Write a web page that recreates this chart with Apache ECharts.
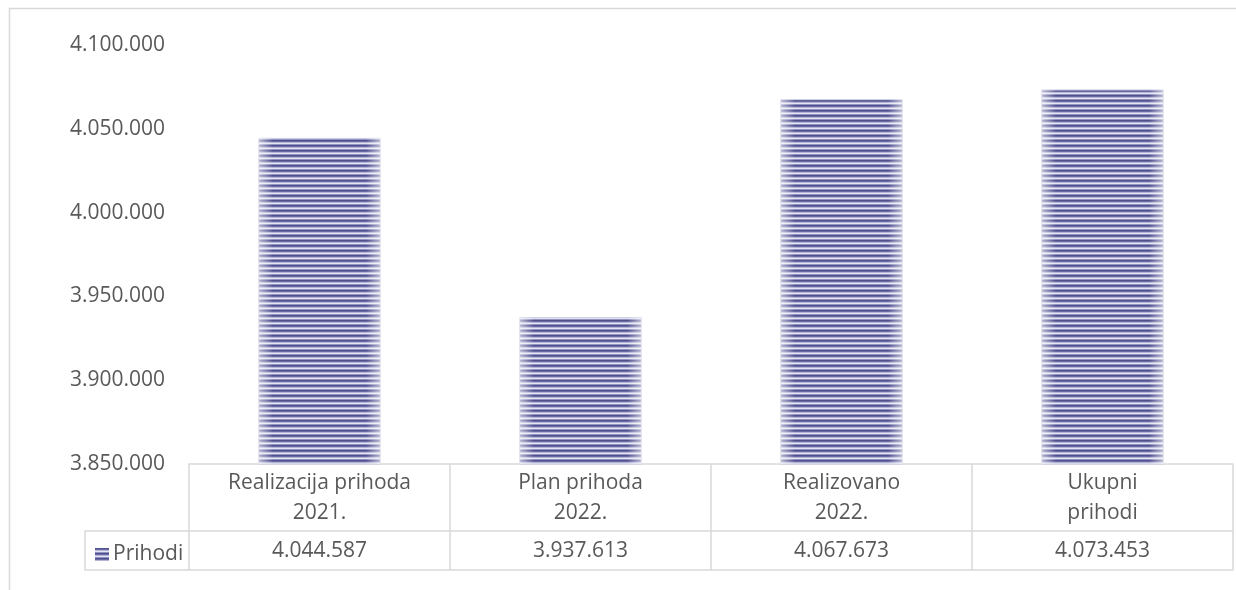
<!DOCTYPE html>
<html>
<head>
<meta charset="utf-8">
<script src="https://cdn.jsdelivr.net/npm/echarts@6/dist/echarts.min.js"></script>
<style>
html,body{margin:0;padding:0;background:#fff;}
#chart{width:1236px;height:590px;}
</style>
</head>
<body>
<div id="chart"></div>
<script>
var categories = ['Realizacija prihoda\n2021.', 'Plan prihoda\n2022.', 'Realizovano\n2022.', 'Ukupni\nprihodi'];
var seriesName = 'Prihodi';
var values = [4044587, 3937613, 4067673, 4073453];
var yMin = 3850000, yMax = 4100000, yStep = 50000;

function fmt(v) {
  return String(Math.round(v)).replace(/\B(?=(\d{3})+(?!\d))/g, '.');
}

// striped pattern
var pc = document.createElement('canvas');
pc.width = 4; pc.height = 5;
var ctx = pc.getContext('2d');
var rows = ['#50508e', '#6a6aa3', '#b4b4d6', '#e4e4f2', '#9292c2'];
rows.forEach(function (c, i) { ctx.fillStyle = c; ctx.fillRect(0, i, 4, 1); });

var FONT = '"Open Sans", Lato, sans-serif';
var TXT = '#595959';
var LINE = '#d9d9d9';

var chart = echarts.init(document.getElementById('chart'), null, {renderer: 'canvas'});
chart.setOption({
  animation: false,
  backgroundColor: '#fff',
  grid: {left: 189, right: 3, top: 45, bottom: 126},
  legend: {
    data: [{name: seriesName, itemStyle: {borderWidth: 0}}],
    left: 90, top: 539,
    itemWidth: 14, itemHeight: 13, itemGap: 4,
    icon: 'rect',
    textStyle: {fontFamily: FONT, fontSize: 21, color: TXT, padding: [0, 0, 0, -1]}
  },
  yAxis: {
    type: 'value', min: yMin, max: yMax, interval: yStep,
    axisLine: {show: false}, axisTick: {show: false}, splitLine: {show: false},
    axisLabel: {formatter: fmt, fontFamily: FONT, fontSize: 21, color: TXT, margin: 24}
  },
  xAxis: [
    {
      type: 'category', data: categories, position: 'bottom',
      axisLine: {show: true, lineStyle: {color: LINE, width: 1.5}},
      axisTick: {show: true, length: 106, lineStyle: {color: LINE, width: 1.5}},
      axisLabel: {interval: 0, fontFamily: FONT, fontSize: 21, color: TXT, lineHeight: 30, margin: 4, align: 'center'}
    },
    {
      type: 'category', data: categories, position: 'bottom', offset: 67,
      axisLine: {show: true, lineStyle: {color: LINE, width: 1.5}},
      axisTick: {show: false},
      axisLabel: {
        interval: 0, fontFamily: FONT, fontSize: 21, color: TXT, margin: 8, lineHeight: 24,
        formatter: function (v, i) { return fmt(values[i]); }
      }
    },
    {
      type: 'category', data: categories, position: 'bottom', offset: 106,
      axisLine: {show: true, lineStyle: {color: LINE, width: 1.5}},
      axisTick: {show: false}, axisLabel: {show: false}
    }
  ],
  series: [
    {
      name: seriesName, type: 'bar', data: values, barWidth: '47%',
      itemStyle: {color: {image: pc, repeat: 'repeat'}, borderColor: '#c9c9e2', borderWidth: 1}
    },
    {
      name: 'shade', type: 'bar', data: values, barWidth: '47%', barGap: '-100%', silent: true,
      itemStyle: {
        color: {
          type: 'linear', x: 0, y: 0, x2: 1, y2: 0,
          colorStops: [
            {offset: 0, color: 'rgba(255,255,255,0.6)'},
            {offset: 0.12, color: 'rgba(255,255,255,0)'},
            {offset: 0.88, color: 'rgba(255,255,255,0)'},
            {offset: 1, color: 'rgba(255,255,255,0.6)'}
          ]
        }
      }
    }
  ],
  graphic: [
    {type: 'rect', shape: {x: 9.5, y: 8.5, width: 1300, height: 700}, style: {fill: null, stroke: LINE, lineWidth: 1.5}, silent: true},
    {type: 'polyline', shape: {points: [[189, 531], [85, 531], [85, 570], [189, 570]]}, style: {fill: null, stroke: LINE, lineWidth: 1.5}, silent: true}
  ]
});
</script>
</body>
</html>
